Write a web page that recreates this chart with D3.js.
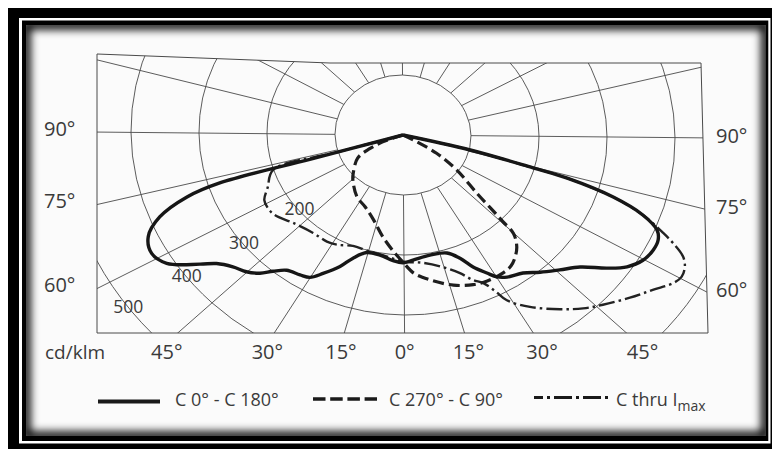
<!DOCTYPE html>
<html>
<head>
<meta charset="utf-8">
<script src="https://cdn.jsdelivr.net/npm/d3@7"></script>
<style>
  html, body { margin: 0; padding: 0; background: #fff; }
  svg { display: block; }
  text { font-family: "Open Sans", "Noto Sans", sans-serif; fill: #3a3a3a; }
</style>
</head>
<body>
<svg id="chart" width="772" height="449"></svg>
<script>
// Luminous intensity distribution, cd/klm. Angles from nadir: negative = left half, positive = right half.
const ringValues = [100, 200, 300, 400, 500];
const ringLabels = [200, 300, 400, 500];
const spokeAngles = d3.range(0, 360, 15);
const sideTicks = [90, 75, 60];
const bottomTicks = [-45, -30, -15, 0, 15, 30, 45];
const unitLabel = "cd/klm";

// C 0° - C 180°
const c0Angles = [-90, -73.5, -73.5, -72, -69.1, -65.7, -61.9, -58.4, -54.2, -52, -48.7, -45.3, -42.4, -40.1, -37.2, -33, -30, -27, -22.9, -19.7, -15.2, -9.6, -4, 0, 4, 11.2, 18.2, 22.2, 25.1, 28.2, 30.3, 32.9, 37.5, 41.4, 45.7, 49.8, 53.5, 56.3, 59.4, 62.5, 65, 67, 69.3, 71.5, 73.4, 74, 75.8, 90];
const c0Values = [0, 140, 281, 334, 383, 411, 419, 408, 368, 348, 333, 324, 312, 297, 283, 278, 274, 259, 238, 218, 203, 203, 210, 213, 209, 204, 207, 222, 243, 261, 274, 282, 290, 305, 322, 341, 373, 396, 410, 415, 414, 406, 377, 326, 252, 199, 102, 0];

// C 270° - C 90°
const c270Angles = [-90, -69, -65, -60, -49, -44.6, -33.5, -25, -17, -10, -4, 0, 4, 9.5, 16.5, 22.5, 27, 32.5, 36, 39, 42, 44.7, 45.5, 46.5, 48.2, 53.6, 58.4, 61.4, 90];
const c270Values = [0, 32, 54, 77, 97, 105, 123, 132, 148, 172, 195, 212, 231, 245, 261, 270, 273, 273, 270, 262, 250, 231, 206, 180, 146, 98, 58, 17, 0];

// C plane through I max
const cmaxAngles = [-90, -73.5, -73, -66.4, -62, -58.5, -54.7, -47.8, -39, -32.2, -27.9, -21.7, -15.3, -6.6, 0, 7.8, 15, 20, 23.1, 25.5, 27.5, 29, 33.1, 38.5, 42.5, 46.1, 50.9, 54.9, 58.2, 60, 62.1, 63.8, 65.6, 66.9, 69.3, 71.5, 73.4, 74, 75.8, 90];
const cmaxValues = [0, 100, 200, 217, 231, 233, 231, 218, 210, 210, 207, 199, 200, 204, 211, 215, 228, 245, 263, 273, 293, 315, 342, 371, 392, 408, 430, 449, 468, 473, 469, 459, 436, 416, 377, 326, 252, 199, 102, 0];

const legendNames = ["C 0° - C 180°", "C 270° - C 90°", "C thru I"];

const svg = d3.select("#chart");
const W = 772, H = 449;

// ---- framed background -------------------------------------------------
const defs = svg.append("defs");
const blur = defs.append("filter").attr("id", "soft").attr("x", "-5%").attr("y", "-5%").attr("width", "110%").attr("height", "110%");
blur.append("feGaussianBlur").attr("stdDeviation", 4);

svg.append("rect").attr("x", 0).attr("y", 0).attr("width", W).attr("height", H).attr("fill", "#fff");
svg.append("rect").attr("x", 8).attr("y", 8).attr("width", W - 8).attr("height", H - 8).attr("fill", "#000");
svg.append("rect").attr("x", 19).attr("y", 18).attr("width", 751.5).attr("height", 425.5).attr("fill", "#fff");
svg.append("rect").attr("x", 22).attr("y", 20.5).attr("width", 746.3).attr("height", 420.5).attr("fill", "#000");

const inner = { x: 26, y: 25, w: 739.7, h: 411 };
defs.append("clipPath").attr("id", "innerClip")
  .append("rect").attr("x", inner.x).attr("y", inner.y).attr("width", inner.w).attr("height", inner.h);
const paper = svg.append("g").attr("clip-path", "url(#innerClip)");
paper.append("rect").attr("x", inner.x).attr("y", inner.y).attr("width", inner.w).attr("height", inner.h).attr("fill", "#fbfbfb");
paper.append("rect").attr("x", inner.x).attr("y", inner.y).attr("width", inner.w).attr("height", inner.h)
  .attr("fill", "none").attr("stroke", "#000").attr("stroke-width", 9).attr("filter", "url(#soft)");

// ---- polar scales ------------------------------------------------------
const cx = 403, cy = 135;
const x = d3.scaleLinear().domain([-500, 500]).range([cx - 340, cx + 340]);
const y = d3.scaleLinear().domain([-500, 500]).range([cy - 300, cy + 300]);
const rad = d => d * Math.PI / 180;
const pt = (a, r) => [x(r * Math.sin(rad(a))), y(r * Math.cos(rad(a)))];

// plotting frame
const frame = [[97, 54], [330, 63], [701, 63], [708, 333], [97, 333]];
defs.append("clipPath").attr("id", "frameClip")
  .append("polygon").attr("points", frame.map(p => p.join(",")).join(" "));

const gridOuter = svg.append("g").attr("clip-path", "url(#frameClip)");
const shA = 0.008, shB = 0.0096;
const grid = gridOuter.append("g")
  .attr("transform", `matrix(1,${shB},${shA},1,${-shA * cy},${-shB * cx})`)
  .attr("fill", "none").attr("stroke", "#4a4a4a").attr("stroke-width", 0.9);

grid.selectAll("line.spoke").data(spokeAngles).join("line")
  .attr("class", "spoke")
  .attr("x1", a => pt(a, ringValues[0])[0]).attr("y1", a => pt(a, ringValues[0])[1])
  .attr("x2", a => pt(a, 900)[0]).attr("y2", a => pt(a, 900)[1]);

grid.selectAll("ellipse.ring").data(ringValues).join("ellipse")
  .attr("class", "ring")
  .attr("cx", x(0)).attr("cy", y(0))
  .attr("rx", r => x(r) - x(0)).attr("ry", r => y(r) - y(0));

svg.append("polygon").attr("points", frame.map(p => p.join(",")).join(" "))
  .attr("fill", "none").attr("stroke", "#4a4a4a").attr("stroke-width", 1);

// ring value labels, set along a lower-left diagonal
const labelAngle = r => -49.3 - 0.011 * r;
svg.selectAll("text.ringlab").data(ringLabels).join("text")
  .attr("class", "ringlab")
  .attr("x", r => pt(labelAngle(r), r)[0] + 3)
  .attr("y", r => pt(labelAngle(r), r)[1] + 5)
  .attr("text-anchor", "middle").attr("font-size", 17.5)
  .text(r => r);

// side angle labels where the spokes meet the frame
const leftU = x.invert(97), rightU = x.invert(705);
const sheared = (px, py) => [px + shA * (py - cy), py + shB * (px - cx)];
svg.selectAll("text.sideL").data(sideTicks).join("text")
  .attr("class", "sideL")
  .attr("x", 44)
  .attr("y", a => sheared(97, y(-leftU / Math.tan(rad(a))))[1] + 4)
  .attr("font-size", 20).text(a => a + "°");
svg.selectAll("text.sideR").data(sideTicks).join("text")
  .attr("class", "sideR")
  .attr("x", 716)
  .attr("y", a => sheared(705, y(rightU / Math.tan(rad(a))))[1] + 5)
  .attr("font-size", 20).text(a => a + "°");

// bottom angle labels, spread slightly beyond the spoke ends
const bottomV = y.invert(333);
svg.selectAll("text.bot").data(bottomTicks).join("text")
  .attr("class", "bot")
  .attr("x", a => cx + (sheared(x(bottomV * Math.tan(rad(a))), 333)[0] - cx) * 1.06)
  .attr("y", 359)
  .attr("text-anchor", "middle").attr("font-size", 20)
  .text(a => Math.abs(a) + "°");

svg.append("text").attr("x", 45).attr("y", 359).attr("font-size", 19).text(unitLabel);

// ---- curves ------------------------------------------------------------
const line = d3.line().curve(d3.curveCatmullRom.alpha(0.5));
const curves = svg.append("g").attr("fill", "none").attr("stroke-linejoin", "round");

curves.append("path")
  .attr("d", line(d3.zip(cmaxAngles, cmaxValues).map(([a, r]) => pt(a, r))))
  .attr("stroke", "#222").attr("stroke-width", 2.4).attr("stroke-dasharray", "16,4,2.5,4");
curves.append("path")
  .attr("d", line(d3.zip(c270Angles, c270Values).map(([a, r]) => pt(a, r))))
  .attr("stroke", "#1e1e1e").attr("stroke-width", 3.2).attr("stroke-dasharray", "11,5");
curves.append("path")
  .attr("d", line(d3.zip(c0Angles, c0Values).map(([a, r]) => pt(a, r))))
  .attr("stroke", "#161616").attr("stroke-width", 3.4);

// ---- legend ------------------------------------------------------------
const legend = svg.append("g");
const legendItems = [
  { x1: 98, x2: 160, y: 401.5, tx: 175, dash: null, w: 3.8 },
  { x1: 313, x2: 377, y: 399, tx: 389, dash: "12.5,4.7", w: 3.6 },
  { x1: 534, x2: 611, y: 397.5, tx: 616, dash: "18,4,3,4", w: 2.8, off: 9 }
];
legendItems.forEach((it, i) => {
  legend.append("line").attr("x1", it.x1).attr("x2", it.x2).attr("y1", it.y).attr("y2", it.y)
    .attr("stroke", "#1a1a1a").attr("stroke-width", it.w)
    .attr("stroke-dasharray", it.dash).attr("stroke-dashoffset", it.off || 0);
  const t = legend.append("text").attr("x", it.tx).attr("y", 406).attr("font-size", 18).text(legendNames[i]);
  if (i === 2) t.append("tspan").attr("dy", 5).attr("font-size", 14).text("max");
});
</script>
</body>
</html>
